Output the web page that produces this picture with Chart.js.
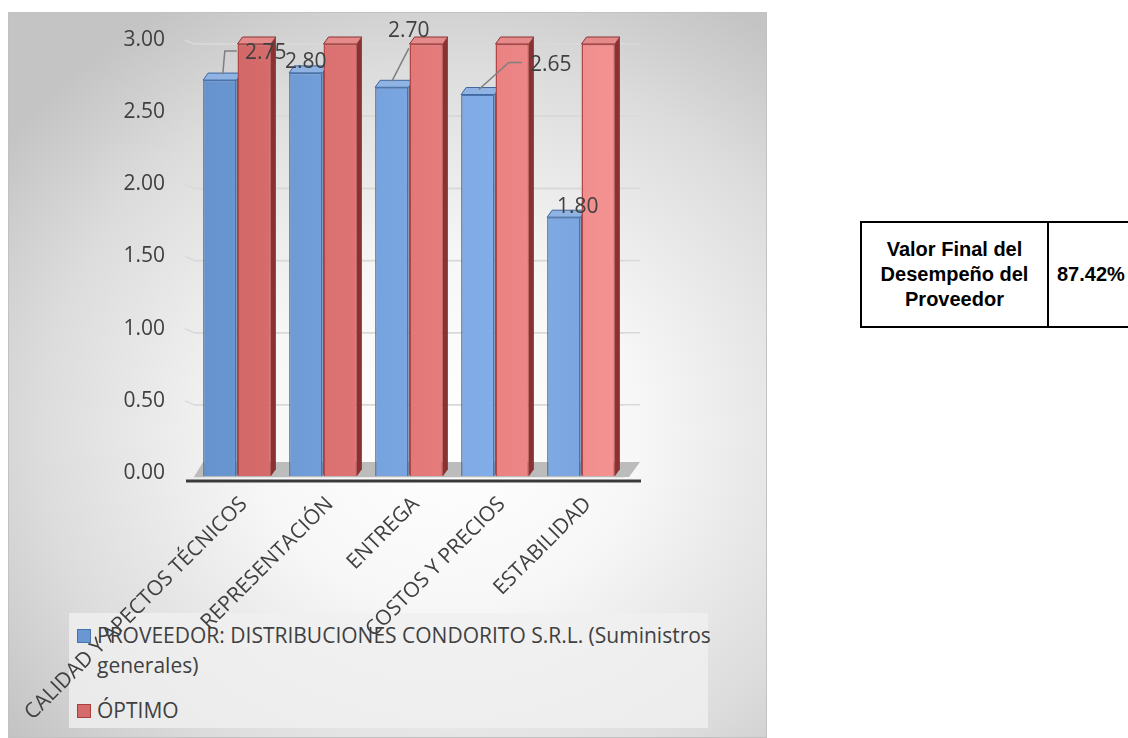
<!DOCTYPE html>
<html><head><meta charset="utf-8">
<script src="https://cdn.jsdelivr.net/npm/chart.js@4"></script>
<style>
html,body{margin:0;padding:0;background:#fff;width:1128px;height:738px;overflow:hidden;position:relative;font-family:"Open Sans",sans-serif;}
#chartBox{position:absolute;left:8px;top:12px;width:759px;height:726px;overflow:hidden;
 background:radial-gradient(ellipse 72% 68% at 58% 58%, #ffffff 0%, #f7f7f7 35%, #dcdcdc 75%, #c4c4c4 100%);
 box-shadow:inset 0 0 0 1px #c2c2c2;}
#legend{position:absolute;left:61px;top:601px;width:639px;height:115px;background:rgba(240,240,240,0.8);color:#404040;font-size:21px;line-height:30px;box-sizing:border-box;padding:7px 0 0 8px;white-space:nowrap;}
.item{display:flex;align-items:flex-start;}
.item + .item{margin-top:15px;}
.sw{width:12px;height:12px;margin:9px 6px 0 0;flex:none;border:1px solid;}
#cv{position:absolute;left:0;top:0;}
#summary{position:absolute;left:860px;top:221px;width:320px;height:107px;box-sizing:border-box;border:2px solid #000;font-family:"Liberation Sans",Arial,sans-serif;font-weight:bold;font-size:20px;line-height:25px;color:#000;}
#sumLabel{position:absolute;left:0;top:0;width:185px;height:103px;display:flex;align-items:center;justify-content:center;text-align:center;border-right:2px solid #000;}
#sumValue{position:absolute;left:195px;top:0;height:103px;display:flex;align-items:center;white-space:nowrap;}
</style></head>
<body>
<div id="chartBox">
  <div id="legend"></div>
  <canvas id="cv" width="759" height="726"></canvas>
</div>
<div id="summary"><div id="sumLabel"></div><div id="sumValue"></div></div>
<script>
const categories = ["CALIDAD Y APECTOS TÉCNICOS","REPRESENTACIÓN","ENTREGA","COSTOS Y PRECIOS","ESTABILIDAD"];
const proveedorValues = [2.75, 2.80, 2.70, 2.65, 1.80];
const optimoValues = [3, 3, 3, 3, 3];
const yTicks = [0, 0.5, 1, 1.5, 2, 2.5, 3];
const seriesNames = ["PROVEEDOR: DISTRIBUCIONES CONDORITO S.R.L. (Suministros generales)", "ÓPTIMO"];
const summaryLabelLines = ["Valor Final del", "Desempeño del", "Proveedor"];
const summaryValue = "87.42%";

document.getElementById('sumLabel').innerHTML = '<div>' + summaryLabelLines.join('<br>') + '</div>';
document.getElementById('sumValue').textContent = summaryValue;

const legendColors = [['#6a97d1','#4672ad'],['#d46a6a','#a94040']];
const legendBreaks = [["PROVEEDOR: DISTRIBUCIONES CONDORITO S.R.L. (Suministros","generales)"],["ÓPTIMO"]];
const lg = document.getElementById('legend');
seriesNames.forEach((n,i)=>{
  const it = document.createElement('div'); it.className='item';
  const sw = document.createElement('div'); sw.className='sw';
  sw.style.background = legendColors[i][0]; sw.style.borderColor = legendColors[i][1];
  const tx = document.createElement('div');
  tx.innerHTML = legendBreaks[i].join('<br>');
  it.appendChild(sw); it.appendChild(tx); lg.appendChild(it);
});

function hGrad(chart, stops, fallback){
  const ca = chart.chartArea; if(!ca) return fallback;
  const g = chart.ctx.createLinearGradient(ca.left,0,ca.right,0);
  stops.forEach(s=>g.addColorStop(s[0], s[1])); return g;
}

const Y_LABEL_SHIFT = -4;
const depthPlugin = {
  id:'depth3d',
  beforeDatasetsDraw(chart){
    const {ctx, chartArea:ca, scales:{y}} = chart;
    const y0 = y.getPixelForValue(0);
    ctx.save();
    // wall grid extensions + connectors toward labels
    ctx.strokeStyle = '#d9d9d9'; ctx.lineWidth = 1.5;
    y.ticks.forEach(t=>{
      const py = y.getPixelForValue(t.value);
      if (t.value === 0) return;
      ctx.beginPath();
      ctx.moveTo(ca.left-9, py+Y_LABEL_SHIFT); ctx.lineTo(ca.left, py);
      ctx.lineTo(ca.right+16, py);
      ctx.stroke();
    });
    // floor
    ctx.fillStyle = '#bcbcbc';
    ctx.beginPath();
    ctx.moveTo(ca.left, y0); ctx.lineTo(ca.left+9, y0-15);
    ctx.lineTo(ca.right+16, y0-15); ctx.lineTo(ca.right+5, y0);
    ctx.closePath(); ctx.fill();
    ctx.strokeStyle = '#3a3a3a'; ctx.lineWidth = 3;
    ctx.beginPath(); ctx.moveTo(ca.left-8, y0+4); ctx.lineTo(ca.right+17, y0+4); ctx.stroke();
    // bar depth
    const dx = 5, dy = -7;
    const sides = [['#3f669c','#8fb3e3'],['#8a3232','#e58a8a']];
    chart.data.datasets.forEach((ds, di)=>{
      const meta = chart.getDatasetMeta(di);
      meta.data.forEach(bar=>{
        const p = bar.getProps(['x','y','base','width'], true);
        const l = p.x - p.width/2, r = p.x + p.width/2;
        ctx.fillStyle = sides[di][0];
        ctx.beginPath(); ctx.moveTo(r,p.y); ctx.lineTo(r+dx,p.y+dy); ctx.lineTo(r+dx,p.base+dy); ctx.lineTo(r,p.base); ctx.closePath(); ctx.fill();
        ctx.fillStyle = sides[di][1];
        ctx.beginPath(); ctx.moveTo(l,p.y); ctx.lineTo(l+dx,p.y+dy); ctx.lineTo(r+dx,p.y+dy); ctx.lineTo(r,p.y); ctx.closePath(); ctx.fill();
        ctx.strokeStyle = sides[di][0]; ctx.lineWidth = 1; ctx.stroke();
      });
    });
    ctx.restore();
  }
};

const labelOffsets = [
  {dx:46, dy:-27, lead:[[3,-6],[5,-29],[17,-29]]},
  {dx:0,  dy:-11, lead:null},
  {dx:17, dy:-56, lead:[[0,-6],[17,-39]]},
  {dx:73, dy:-30, lead:[[1,-5],[31,-32],[44,-32]]},
  {dx:14, dy:-10, lead:null}
];
const labelPlugin = {
  id:'vlabels',
  afterDatasetsDraw(chart){
    const {ctx} = chart;
    const meta = chart.getDatasetMeta(0);
    ctx.save();
    meta.data.forEach((bar,i)=>{
      const p = bar.getProps(['x','y'], true);
      const o = labelOffsets[i];
      if(o.lead){
        ctx.strokeStyle = '#7f7f7f'; ctx.lineWidth = 1.5;
        ctx.beginPath();
        o.lead.forEach((pt,k)=>{ const X=p.x+pt[0], Y=p.y+pt[1]; k?ctx.lineTo(X,Y):ctx.moveTo(X,Y); });
        ctx.stroke();
      }
      ctx.fillStyle = '#404040';
      ctx.font = '21px "Open Sans"';
      ctx.textAlign = 'center'; ctx.textBaseline = 'middle';
      ctx.fillText(proveedorValues[i].toFixed(2), p.x+o.dx, p.y+o.dy);
    });
    ctx.restore();
  }
};

new Chart(document.getElementById('cv'), {
  type:'bar',
  data:{
    labels: categories,
    datasets:[
      {label: seriesNames[0], data: proveedorValues,
       backgroundColor: c=>hGrad(c.chart, [[0,'#6592cd'],[0.7,'#82ade8'],[1,'#77a2dc']], '#6a97d1'),
       borderColor:'#4672ad', borderWidth:1.5,
       categoryPercentage:0.8, barPercentage:0.97},
      {label: seriesNames[1], data: optimoValues,
       backgroundColor: c=>hGrad(c.chart, [[0,'#cf6464'],[0.6,'#e67c7c'],[1,'#f59393']], '#d46a6a'),
       borderColor:'#b04646', borderWidth:1.5,
       categoryPercentage:0.8, barPercentage:0.97}
    ]
  },
  options:{
    responsive:false, animation:false, devicePixelRatio:1,
    layout:{padding:{top:32,left:0,right:143,bottom:0}},
    plugins:{legend:{display:false}, tooltip:{enabled:false}},
    scales:{
      y:{min:0,max:3,
        afterBuildTicks:s=>{ s.ticks = yTicks.map(v=>({value:v})); },
        afterFit:s=>{ s.width = 186; s.paddingTop = 0; s.paddingBottom = 0; },
        ticks:{padding:29,labelOffset:Y_LABEL_SHIFT,color:'#404040',font:{family:'Open Sans',size:21},callback:v=>Number(v).toFixed(2)},
        grid:{color:'#d9d9d9',drawTicks:false,lineWidth:1.5},
        border:{display:false}
      },
      x:{
        afterFit:s=>{ s.height = 261; s.paddingLeft = 0; s.paddingRight = 0; },
        ticks:{minRotation:45,maxRotation:45,autoSkip:false,padding:15,labelOffset:7,color:'#404040',font:{family:'Open Sans',size:21}},
        grid:{display:false,drawTicks:false},
        border:{display:false}
      }
    }
  },
  plugins:[depthPlugin, labelPlugin]
});
</script>
</body></html>
